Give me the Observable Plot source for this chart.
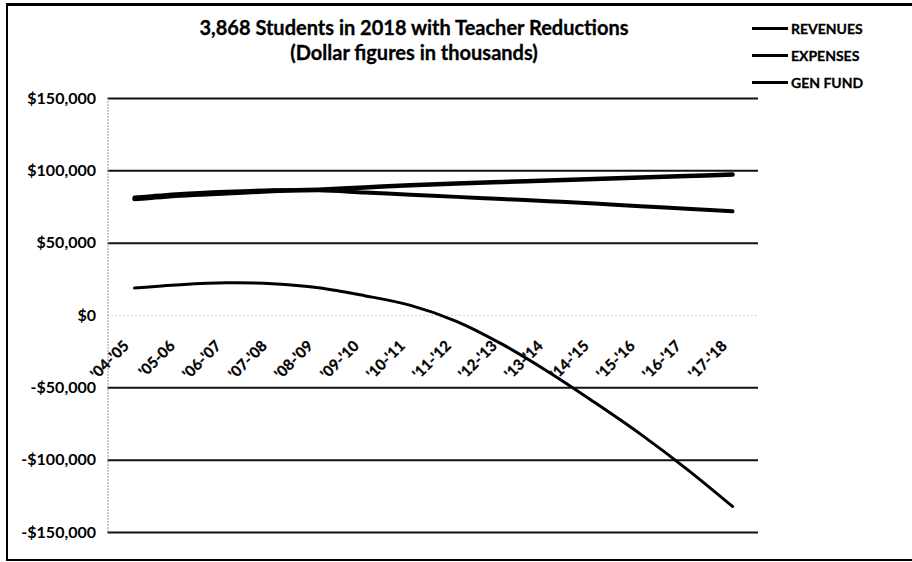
<!DOCTYPE html>
<html><head><meta charset="utf-8">
<script src="https://cdn.jsdelivr.net/npm/d3@7"></script>
<script src="https://cdn.jsdelivr.net/npm/@observablehq/plot@0.6"></script>
<style>
body{margin:0;background:#fff;overflow:hidden;font-family:Lato,"Open Sans",sans-serif;}
#wrap{position:relative;width:912px;height:562px;overflow:hidden;}
#wrap svg{position:absolute;left:0;top:0;}
#frame{position:absolute;left:6px;top:3px;width:960px;height:553px;border-left:2px solid #000;border-top:3px solid #000;border-bottom:2px solid #000;}
.title{position:absolute;left:0;width:828px;text-align:center;font-weight:bold;font-size:20px;color:#000;-webkit-text-stroke:0.3px #000;}
.leg{position:absolute;left:752px;height:16px;font-weight:bold;font-size:14px;display:flex;align-items:center;-webkit-text-stroke:0.3px #000;}
.leg span.sw{display:inline-block;width:36px;height:0;border-top:3px solid #000;margin-right:3px;}
</style></head>
<body>
<div id="wrap">
<div id="chart"></div>
<div id="frame"></div>
<div class="title" style="top:15px">3,868 Students in 2018 with Teacher Reductions</div>
<div class="title" style="top:40px">(Dollar figures in thousands)</div>
<div id="legend"></div>
</div>
<script>
const categories = ["'04-'05","'05-06","'06-'07","'07-'08","'08-'09","'09-'10","'10-'11","'11-'12","'12-'13","'13-'14","'14-'15","'15-'16","'16-'17","'17-'18"];
const revenues = [81500, 84000, 85500, 86500, 86500, 85000, 83500, 82000, 80500, 79000, 77500, 75500, 73800, 72000];
const expenses = [80500, 83000, 84500, 86000, 87000, 88500, 90000, 91200, 92300, 93300, 94400, 95400, 96400, 97400];
const genFund = [19000, 21300, 22600, 22000, 19200, 13700, 7000, -4000, -20000, -39000, -60000, -82000, -106000, -132000];
const seriesNames = ["REVENUES", "EXPENSES", "GEN FUND"];
const yTicks = [-150000, -100000, -50000, 0, 50000, 100000, 150000];

const rows = [];
[revenues, expenses, genFund].forEach((vals, s) => vals.forEach((v, i) => rows.push({series: seriesNames[s], cat: categories[i], value: v})));

const fmt = d => (d < 0 ? "-$" : "$") + d3.format(",")(Math.abs(d));

const chart = Plot.plot({
  width: 912, height: 562,
  marginLeft: 107.5, marginRight: 154, marginTop: 98, marginBottom: 30,
  style: {fontFamily: "Lato, 'Open Sans', sans-serif", fontSize: "16px", fontWeight: "bold", color: "#000", background: "transparent"},
  x: {type: "point", domain: categories, padding: 0.5, axis: null},
  y: {domain: [-150000, 150000], axis: null},
  marks: [
    Plot.ruleY(yTicks.filter(d => d !== 0), {stroke: "#111", strokeWidth: 2}),
    Plot.ruleY([0], {stroke: "#aaa", strokeDasharray: "1,3"}),
    Plot.frame({anchor: "left", stroke: "#999", strokeDasharray: "1,2"}),
    Plot.axisY({ticks: yTicks, tickSize: 0, tickPadding: 12, tickFormat: fmt, fontSize: 16, label: null, fill: "#000", stroke: "#000", strokeWidth: 0.3}),
    Plot.text(categories, {x: d => d, y: () => 0, text: d => d, rotate: -45, textAnchor: "end", dx: -8, dy: 28, fontSize: 15, fontWeight: "bold", fill: "#000", stroke: "#000", strokeWidth: 0.3}),
    Plot.line(rows.filter(d => d.series === "GEN FUND"), {x: "cat", y: "value", stroke: "#000", strokeWidth: 3, curve: "catmull-rom"}),
    Plot.line(rows.filter(d => d.series === "REVENUES"), {x: "cat", y: "value", stroke: "#000", strokeWidth: 4, curve: "catmull-rom"}),
    Plot.line(rows.filter(d => d.series === "EXPENSES"), {x: "cat", y: "value", stroke: "#000", strokeWidth: 4.5, curve: "catmull-rom"})
  ]
});
document.getElementById("chart").appendChild(chart);

const legend = document.getElementById("legend");
const legTops = [20, 47, 74];
seriesNames.forEach((name, i) => {
  const div = document.createElement("div");
  div.className = "leg";
  div.style.top = legTops[i] + "px";
  div.innerHTML = '<span class="sw"></span>' + name;
  legend.appendChild(div);
});
</script>
</body></html>
